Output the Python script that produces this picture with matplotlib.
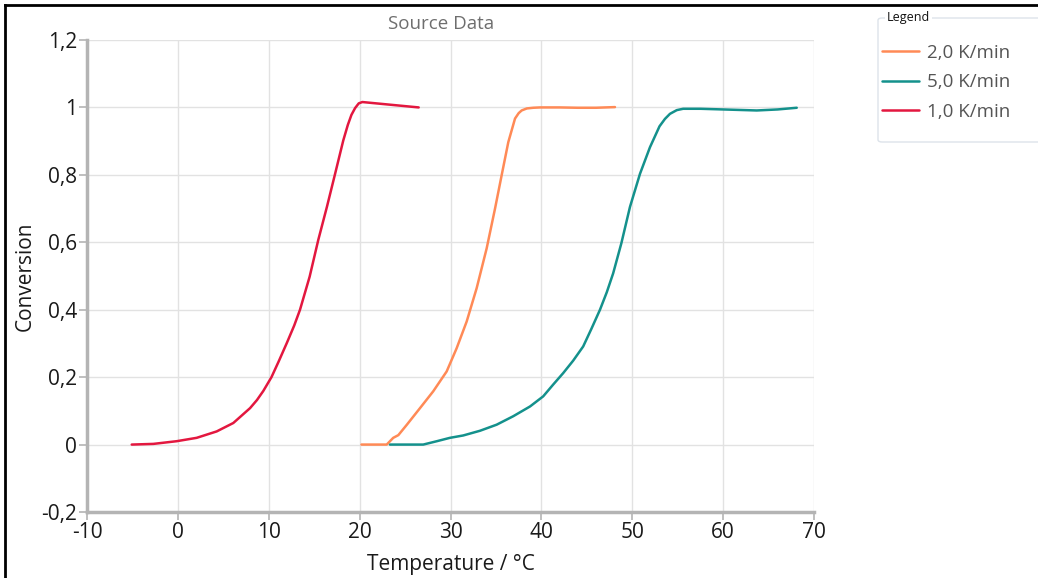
import matplotlib
matplotlib.use("Agg")
import matplotlib.pyplot as plt
from matplotlib.lines import Line2D
from matplotlib.patches import FancyBboxPatch
from matplotlib.ticker import FuncFormatter

# ---- data ----
series_labels = ["2,0 K/min", "5,0 K/min", "1,0 K/min"]
series_colors = ["#ff8a56", "#14918c", "#e3173f"]

temp_2K = [20.2, 22.98, 23.7, 24.26, 25.2, 26.64, 28.1, 29.58, 30.68, 31.78, 32.88,
           33.98, 34.9, 35.63, 36.36, 37.1, 37.5, 37.83, 38.4, 39.1, 39.85, 42.0, 44.0,
           46.0, 48.1]
conv_2K = [0.0, 0.0, 0.02, 0.028, 0.059, 0.108, 0.158, 0.217, 0.286, 0.365, 0.464,
           0.582, 0.70, 0.799, 0.897, 0.967, 0.983, 0.991, 0.997, 0.999, 1.0, 1.0, 0.999,
           0.999, 1.001]

temp_5K = [23.34, 27.0, 28.5, 29.94, 31.4, 33.25, 35.08, 36.9, 38.75, 40.2, 41.3, 42.4,
           43.5, 44.6, 45.5, 46.45, 47.2, 47.9, 48.8, 49.75, 50.85, 51.95, 53.0, 53.6,
           54.15, 54.9, 55.6, 57.5, 60.0, 63.7, 66.0, 68.1]
conv_5K = [0.0, 0.0, 0.01, 0.02, 0.027, 0.041, 0.059, 0.084, 0.113, 0.143, 0.178, 0.212,
           0.249, 0.291, 0.343, 0.40, 0.452, 0.508, 0.597, 0.705, 0.803, 0.882, 0.944, 0.966,
           0.981, 0.992, 0.996, 0.996, 0.994, 0.991, 0.994, 0.999]

temp_1K = [-5.08, -2.7, -0.13, 2.07, 4.27, 6.1, 7.94, 8.7, 9.4, 10.3, 11.1, 12.0, 12.8,
           13.44, 14.5, 15.45, 16.4, 17.3, 18.2, 18.7, 19.1, 19.5, 19.9, 20.3, 23.0, 26.5]
conv_1K = [0.0, 0.002, 0.01, 0.02, 0.039, 0.064, 0.108, 0.132, 0.159, 0.20, 0.247, 0.302,
           0.353, 0.40, 0.498, 0.607, 0.705, 0.803, 0.902, 0.948, 0.978, 0.998, 1.012,
           1.016, 1.009, 1.0]

x_ticks = [-10, 0, 10, 20, 30, 40, 50, 60, 70]
y_ticks = [-0.2, 0, 0.2, 0.4, 0.6, 0.8, 1.0, 1.2]

title = "Source Data"
x_label = "Temperature / °C"
y_label = "Conversion"

# ---- figure ----
plt.rcParams['font.family'] = ['Open Sans', 'DejaVu Sans']
W, H = 1038, 578
fig = plt.figure(figsize=(W / 100, H / 100), dpi=100)
ax = fig.add_axes([87 / W, 1 - 512 / H, (814 - 87) / W, (512 - 40) / H])

lines = []
for t, c, col in [(temp_2K, conv_2K, series_colors[0]),
                  (temp_5K, conv_5K, series_colors[1]),
                  (temp_1K, conv_1K, series_colors[2])]:
    ln, = ax.plot(t, c, color=col, lw=1.8, solid_capstyle='round', solid_joinstyle='round')
    lines.append(ln)

ax.set_xlim(-10, 70)
ax.set_ylim(-0.2, 1.2)
ax.set_xticks(x_ticks)
ax.set_yticks(y_ticks)

def comma_fmt(v, pos):
    s = ("%.1f" % v).rstrip('0').rstrip('.')
    if s == "-0":
        s = "0"
    return s.replace('.', ',')

ax.xaxis.set_major_formatter(FuncFormatter(comma_fmt))
ax.yaxis.set_major_formatter(FuncFormatter(comma_fmt))

ax.grid(True, color='#e2e2e2', lw=1.0)
ax.set_axisbelow(True)
for s in ['top', 'right']:
    ax.spines[s].set_visible(False)
for s in ['left', 'bottom']:
    ax.spines[s].set_color('#b4b4b4')
    ax.spines[s].set_linewidth(2.5)
ax.tick_params(axis='both', colors='#b4b4b4', labelcolor='#1a1a1a', labelsize=15,
               length=6, width=1.2, pad=1)

ax.set_xlabel(x_label, fontsize=15, color='#1a1a1a', labelpad=8)
ax.set_ylabel(y_label, fontsize=15, color='#1a1a1a', labelpad=4)
fig.text(441 / W, 1 - 24 / H, title, fontsize=13.5, color='#6e6e6e', ha='center',
         va='center')

# outer border (black, top and left visible)
fig.add_artist(Line2D([5 / W, 5 / W], [0, 1 - 5 / H], transform=fig.transFigure,
                      color='black', lw=2))
fig.add_artist(Line2D([5 / W, 1], [1 - 5 / H, 1 - 5 / H], transform=fig.transFigure,
                      color='black', lw=2))

# legend box
box = FancyBboxPatch((878 / W, 1 - 142 / H), (1050 - 878) / W, (142 - 18) / H,
                     boxstyle="round,pad=0,rounding_size=0.004", transform=fig.transFigure,
                     facecolor='white', edgecolor='#dde3ea', lw=1.0)
fig.add_artist(box)
fig.text(887 / W, 1 - 18 / H, "Legend", fontsize=9, color='#111111', va='center',
         ha='left', bbox=dict(facecolor='white', edgecolor='none', pad=1.5))
fig.legend(lines, series_labels, loc='upper left', bbox_to_anchor=(874 / W, 1 - 36 / H),
           frameon=False, fontsize=13.5, labelcolor='#555555', handlelength=2.0,
           handletextpad=0.45, labelspacing=0.62, borderaxespad=0)

fig.savefig("out.png", dpi=100)
